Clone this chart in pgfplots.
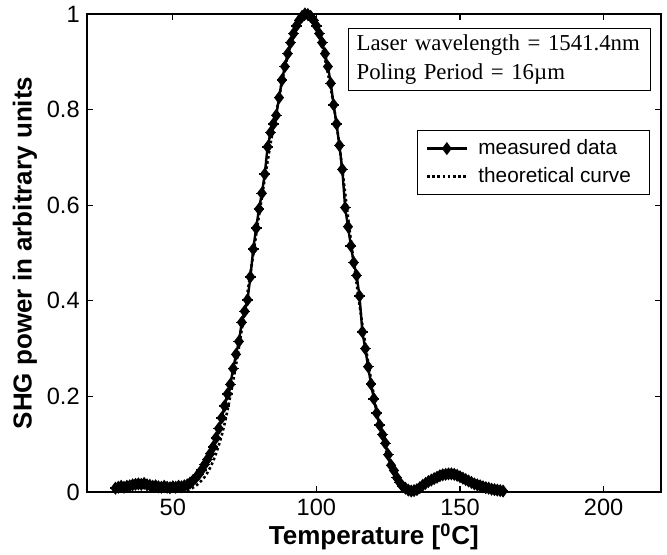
\documentclass[border=0pt]{standalone}
\usepackage{fontspec}
\setmainfont{Liberation Sans}
\newfontfamily\timesfont{Liberation Serif}
\usepackage{pgfplots}
\pgfplotsset{compat=1.18}
\usepackage{pgfplotstable}

% measured SHG power vs temperature
\pgfplotstableread{
T v
30 0.008
31 0.010
32 0.012
33 0.010
34 0.012
35 0.013
36 0.015
37 0.016
38 0.017
39 0.016
40 0.018
41 0.015
42 0.014
43 0.012
44 0.013
45 0.011
46 0.010
47 0.012
48 0.010
49 0.009
50 0.011
51 0.010
52 0.012
53 0.011
54 0.013
55 0.015
56 0.019
57 0.024
58 0.030
59 0.037
60 0.046
61 0.057
62 0.068
63 0.080
64 0.094
65 0.113
66 0.133
67 0.155
68 0.180
69 0.205
70 0.225
71 0.258
72 0.288
73 0.315
74 0.355
75 0.378
76 0.402
77 0.450
78 0.508
79 0.552
80 0.592
81 0.625
82 0.665
83 0.722
84 0.752
85 0.770
86 0.788
87 0.825
88 0.862
89 0.890
90 0.917
91 0.940
92 0.959
93 0.975
94 0.987
95 0.995
96 1.000
97 0.999
98 0.995
99 0.987
100 0.975
101 0.959
102 0.940
103 0.917
104 0.890
105 0.855
106 0.810
107 0.770
108 0.725
109 0.675
110 0.595
111 0.555
112 0.515
113 0.480
114 0.453
115 0.410
116 0.335
117 0.300
118 0.262
119 0.226
120 0.195
121 0.165
122 0.140
123 0.120
124 0.102
125 0.078
126 0.056
127 0.045
128 0.030
129 0.020
130 0.012
131 0.008
132 0.004
133 0.002
134 0.003
135 0.005
136 0.009
137 0.014
138 0.018
139 0.022
140 0.025
141 0.028
142 0.031
143 0.034
144 0.036
145 0.037
146 0.038
147 0.038
148 0.037
149 0.035
150 0.032
151 0.029
152 0.026
153 0.023
154 0.020
155 0.017
156 0.015
157 0.013
158 0.011
159 0.009
160 0.008
161 0.006
162 0.005
163 0.004
164 0.003
165 0.002
}\measured

% theoretical sinc^2-like tuning curve
\pgfplotstableread{
T v
30 0.006
32 0.010
34 0.013
36 0.015
38 0.016
40 0.016
42 0.014
44 0.011
46 0.008
48 0.005
50 0.003
52 0.002
54 0.003
55 0.004
56 0.006
57 0.009
58 0.013
59 0.018
60 0.024
61 0.031
62 0.040
63 0.051
64 0.064
65 0.080
66 0.098
67 0.118
68 0.142
69 0.170
70 0.200
71 0.232
72 0.266
73 0.302
74 0.340
75 0.378
76 0.417
77 0.457
78 0.497
79 0.538
80 0.578
81 0.617
82 0.655
83 0.692
84 0.728
85 0.762
86 0.794
87 0.825
88 0.858
89 0.886
90 0.912
91 0.936
92 0.956
93 0.973
94 0.986
95 0.995
96 0.999
97 0.999
98 0.994
99 0.984
100 0.970
101 0.952
102 0.930
103 0.905
104 0.876
105 0.845
106 0.810
107 0.770
108 0.725
109 0.676
110 0.625
111 0.575
112 0.527
113 0.480
114 0.436
115 0.392
116 0.350
117 0.310
118 0.272
119 0.236
120 0.202
121 0.170
122 0.141
123 0.115
124 0.092
125 0.072
126 0.055
127 0.041
128 0.029
129 0.019
130 0.011
131 0.006
132 0.003
133 0.002
134 0.003
136 0.008
138 0.015
140 0.022
142 0.029
144 0.034
146 0.037
148 0.037
150 0.034
152 0.029
154 0.023
156 0.017
158 0.012
160 0.008
162 0.005
164 0.003
}\theory

\begin{document}
\begin{tikzpicture}
\begin{axis}[
  name=ax,
  scale only axis,width=287.15pt,height=239pt,
  xmin=20,xmax=220,ymin=0,ymax=1,
  xtick={50,100,150,200},
  ytick={0,0.2,0.4,0.6,0.8,1},
  yticklabels={0,0.2,0.4,0.6,0.8,1},
  tick align=inside,tick pos=both,
  major tick length=3pt,
  axis line style={line width=1pt},
  every tick/.style={black,line width=0.6pt},
  ticklabel style={font=\fontsize{11.8}{13}\selectfont},
  /pgf/number format/assume math mode=true,
  xlabel={\textbf{Temperature [\textsuperscript{0}C]}},
  ylabel={\textbf{SHG power in arbitrary units}},
  label style={font=\fontsize{13}{15}\selectfont},
  xlabel style={yshift=3pt},
  ylabel style={yshift=-2pt},
  legend cell align=left,
  legend style={at={(rel axis cs:0.575,0.757)},anchor=north west,
    font=\fontsize{10.4}{12}\selectfont,draw=black,
    inner xsep=4pt,inner ysep=2.5pt,row sep=1pt,
    nodes={inner xsep=5pt}},
  legend image code/.code={
    \draw[#1,line width=1.6pt] (0cm,0cm) -- (0.7cm,0cm);
    \draw[#1,line width=1.2pt,only marks] plot coordinates {(0.35cm,0cm)};},
]
\addplot[black,line width=1.2pt,mark=diamond*,mark size=2.3pt,
  mark options={solid}] table[x=T,y=v] {\measured};
\addlegendentry{measured data}
\addplot[black,line width=1.3pt,dash pattern=on 1.3pt off 1.3pt]
  table[x=T,y=v] {\theory};
\addlegendentry{theoretical curve}
% spikes of the star-shaped markers
\addplot[black,only marks,mark=+,mark size=2.7pt,line width=0.7pt,
  forget plot] table[x=T,y=v] {\measured};
\node[draw=black,line width=0.6pt,anchor=north west,align=left,
  font=\timesfont\fontsize{11.4}{14.5}\selectfont,fill=white,
  inner xsep=4pt,inner ysep=3pt,text width=143pt]
  at (rel axis cs:0.455,0.971)
  {Laser wavelength = 1541.4nm\\Poling Period = 16µm};
\end{axis}
\pgfresetboundingbox
\path ([xshift=-43.35pt,yshift=-31pt]ax.south west) rectangle
  ([xshift=3pt,yshift=7pt]ax.north east);
\end{tikzpicture}
\end{document}
